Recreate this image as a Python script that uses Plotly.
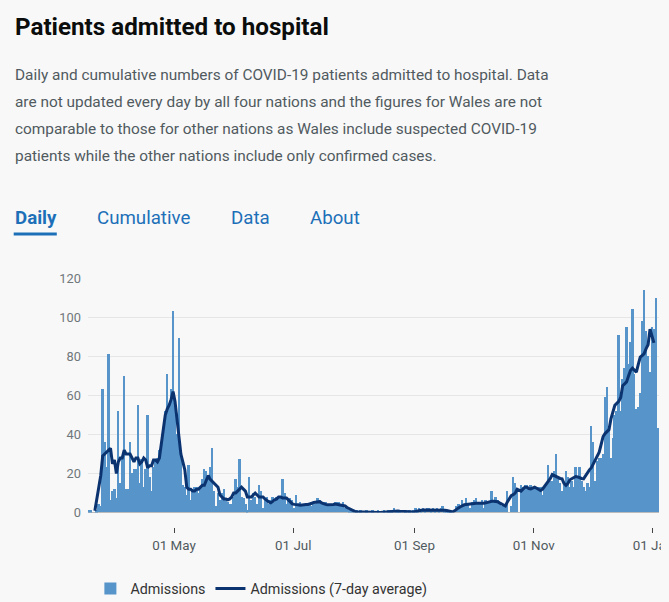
import pandas as pd
import plotly.graph_objects as go

# ---------------- data ----------------
start_date = "2020-03-18"

admissions = [
    1, 1, 0, 0, 1, 4, 3, 63, 36, 23,
    81, 6, 11, 12, 7, 52, 15, 28, 70, 12,
    12, 36, 20, 22, 22, 55, 15, 27, 13, 22,
    50, 18, 11, 23, 27, 28, 32, 35, 40, 52,
    71, 54, 63, 103, 56, 40, 89, 31, 14, 13,
    9, 24, 6, 12, 13, 13, 10, 13, 17, 22,
    21, 18, 23, 33, 11, 3, 10, 6, 10, 12,
    6, 5, 4, 4, 8, 17, 13, 27, 8, 7,
    4, 1, 18, 6, 10, 8, 4, 14, 11, 2,
    6, 8, 4, 6, 8, 5, 8, 8, 7, 17,
    10, 4, 6, 7, 6, 2, 9, 4, 5, 4,
    4, 3, 4, 4, 3, 4, 4, 7, 6, 5,
    4, 5, 4, 3, 4, 4, 5, 5, 5, 3,
    5, 2, 2, 1, 1, 1, 0, 1, 0, 1,
    0, 0, 1, 0, 0, 1, 0, 0, 1, 0,
    0, 1, 0, 1, 1, 1, 2, 1, 1, 1,
    0, 0, 1, 0, 1, 0, 1, 2, 1, 2,
    1, 2, 1, 2, 2, 1, 2, 1, 2, 1,
    2, 3, 1, 1, 1, 1, 0, 0, 3, 4,
    3, 6, 4, 7, 4, 2, 5, 6, 7, 4,
    5, 6, 2, 6, 5, 5, 11, 5, 8, 6,
    4, 3, 3, 3, 11, 0, 3, 18, 15, 12,
    0, 14, 13, 14, 14, 13, 14, 13, 13, 12,
    13, 13, 9, 13, 15, 24, 16, 16, 21, 30,
    17, 15, 11, 14, 21, 18, 13, 16, 13, 23,
    18, 23, 16, 13, 11, 15, 13, 44, 36, 16,
    26, 28, 28, 30, 59, 64, 42, 28, 38, 50,
    52, 91, 52, 68, 74, 95, 76, 87, 104, 71,
    53, 54, 61, 98, 114, 93, 80, 72, 95, 94,
    110, 43,
]

admissions_avg = [
    None, None, None, 1, 7, 13, 19, 29, 30, 31,
    32, 33, 25, 27, 20, 26, 28, 28, 32, 30,
    30, 30, 28, 26, 28, 28, 25, 26, 28, 27,
    23, 24, 24, 27, 27, 26, 28, 35, 42, 50,
    53, 55, 58, 62, 57, 47, 37, 30, 26, 22,
    13, 12, 12, 11, 11, 12, 12, 13, 14, 14,
    17, 19, 17, 16, 15, 14, 13, 9, 8, 7,
    7, 6.5, 7, 8, 10, 10, 11, 12, 13, 12,
    11, 8, 8, 8, 9, 10, 9, 8, 8, 8,
    7, 6, 5.5, 5, 6, 6.5, 7, 8, 8, 7.5,
    7.5, 7.5, 6.5, 5.5, 4.5, 4.2, 4.2, 4, 3.8, 4,
    4, 4.2, 4.2, 4.4, 4.8, 5.2, 5.3, 5.6, 5.6, 5,
    4.5, 4.2, 4, 4, 4, 4.2, 4.4, 4.2, 4.2, 4,
    3.8, 3.4, 2.6, 2, 1.4, 1, 0.6, 0.4, 0.4, 0.4,
    0.4, 0.3, 0.3, 0.3, 0.3, 0.2, 0.2, 0.1, 0.1, 0,
    0.1, 0.3, 0.4, 0.5, 0.6, 0.7, 0.8, 0.8, 0.8, 0.7,
    0.6, 0.5, 0.4, 0.3, 0.2, 0.2, 0.3, 0.6, 0.9, 1.1,
    1.2, 1.3, 1.3, 1.4, 1.4, 1.5, 1.5, 1.5, 1.4, 1.4,
    1.3, 1.3, 1.2, 1.1, 0.8, 0.6, 0.3, 0.9, 1.8, 2.4,
    3, 3.6, 4, 4.2, 4.4, 4.5, 4.6, 4.7, 4.8, 4.8,
    4.6, 4.6, 4.8, 5, 5.4, 5.6, 5.8, 5.8, 5.8, 5.6,
    5, 4.4, 3.6, 3.4, 5.5, 7.5, 8.7, 9.2, 10, 12,
    11.5, 11, 12, 13, 13, 12.3, 12.1, 12.5, 13, 12.5,
    12, 11.3, 12, 13.3, 14.5, 15.6, 17.5, 19.5, 19, 18.5,
    17.8, 17.5, 17.3, 15, 14, 15, 16.8, 17.5, 18.1, 18.5,
    18.3, 17.8, 17.5, 17.3, 19, 20.7, 21.9, 23, 25, 26.5,
    28.4, 31, 35, 39, 40.5, 41.5, 42.5, 48, 52, 55,
    56, 57, 59, 65, 66, 67, 70, 72.8, 74, 73,
    72, 76, 79.7, 80.5, 81.5, 84, 86, 94, 90, 87,
    None, None,
]

dates = pd.date_range(start_date, periods=len(admissions), freq="D")

x_tick_vals = ["2020-05-01", "2020-07-01", "2020-09-01", "2020-11-01", "2021-01-01"]
x_tick_text = ["01 May", "01 Jul", "01 Sep", "01 Nov", "01 Jan"]
y_tick_vals = [0, 20, 40, 60, 80, 100, 120]

title_text = "Patients admitted to hospital"
description_lines = [
    "Daily and cumulative numbers of COVID-19 patients admitted to hospital. Data",
    "are not updated every day by all four nations and the figures for Wales are not",
    "comparable to those for other nations as Wales include suspected COVID-19",
    "patients while the other nations include only confirmed cases.",
]
tabs = ["Daily", "Cumulative", "Data", "About"]

# ---------------- layout helpers ----------------
# Positions are given in pixels of the final 669x602 picture and mapped to
# figure paper fractions (the page keeps the default 8px body margin).
OFF = 8
W, H = 677, 614
SX, OX, SY, OY = 0.977, 0.5, 0.975, 7.9
FONT = "Roboto, 'Liberation Sans', Arial, sans-serif"


def px(t):
    return ((t - OX) / SX - OFF) / W


def py(t):
    return 1 - ((t - OY) / SY - OFF) / H


BG = "#f8f8f8"

fig = go.Figure()
fig.add_bar(
    x=dates, y=admissions, name="Admissions",
    marker=dict(color="#5694ca", line=dict(width=0)),
    xperiod=86400000, xperiodalignment="middle",
)
fig.add_scatter(
    x=dates, y=admissions_avg, mode="lines", name="Admissions (7-day average)",
    line=dict(color="#0b3370", width=3),
    xperiod=86400000, xperiodalignment="middle",
)

annotations = [
    dict(text=f"<b>{title_text}</b>", x=px(13), y=py(27), xref="paper", yref="paper",
         xanchor="left", yanchor="middle", showarrow=False,
         font=dict(family=FONT, size=24.2, color="#0b0c0c")),
]
line_y = [75, 102, 129, 156]
for txt, yy in zip(description_lines, line_y):
    annotations.append(dict(text=txt, x=px(13), y=py(yy), xref="paper", yref="paper",
                            xanchor="left", yanchor="middle", showarrow=False,
                            font=dict(family=FONT, size=15.4, color="#505a5f")))
tab_x = [13, 95, 229, 308]
for i, (t, xx) in enumerate(zip(tabs, tab_x)):
    annotations.append(dict(text=f"<b>{t}</b>" if i == 0 else t, x=px(xx), y=py(218),
                            xref="paper", yref="paper", xanchor="left", yanchor="middle",
                            showarrow=False,
                            font=dict(family=FONT, size=18.7, color="#1d70b8")))

fig.update_layout(
    width=W, height=H,
    margin=dict(l=0, r=0, t=0, b=0),
    paper_bgcolor=BG, plot_bgcolor=BG,
    bargap=0,
    showlegend=True,
    legend=dict(orientation="h", x=px(90.5), y=py(572), xanchor="left", yanchor="top",
                font=dict(family=FONT, size=14.3, color="#333"),
                bgcolor="rgba(0,0,0,0)", itemclick=False),
    annotations=annotations,
    shapes=[dict(type="rect", xref="paper", yref="paper",
                 x0=px(14), x1=px(57), y0=py(235), y1=py(232),
                 fillcolor="#1d70b8", line=dict(width=0))],
    xaxis=dict(
        domain=[px(88), px(658)],
        range=["2020-03-17 22:00", "2021-01-04 05:00"],
        anchor="free", position=py(526),
        showgrid=False, zeroline=False, showline=False,
        ticks="outside", ticklen=5, tickwidth=1, tickcolor="#444",
        tickvals=x_tick_vals, ticktext=x_tick_text,
        ticklabeloverflow="allow", ticklabelstandoff=1,
        tickfont=dict(family=FONT, size=13.4, color="#505a5f"),
    ),
    yaxis=dict(
        domain=[py(512), py(278)],
        range=[0, 120],
        tickvals=y_tick_vals,
        showgrid=True, gridcolor="#e6e6e6", gridwidth=1,
        zeroline=True, zerolinecolor="#bbbbbb", zerolinewidth=1,
        showline=False, ticks="",
        ticklabelstandoff=6,
        tickfont=dict(family=FONT, size=12.8, color="#6f777b"),
    ),
    font=dict(family=FONT),
)

fig.write_html(
    "out.html",
    config={"displayModeBar": False},
    post_script="document.body.style.background='#f8f8f8';"
                "document.documentElement.style.background='#f8f8f8';",
)
